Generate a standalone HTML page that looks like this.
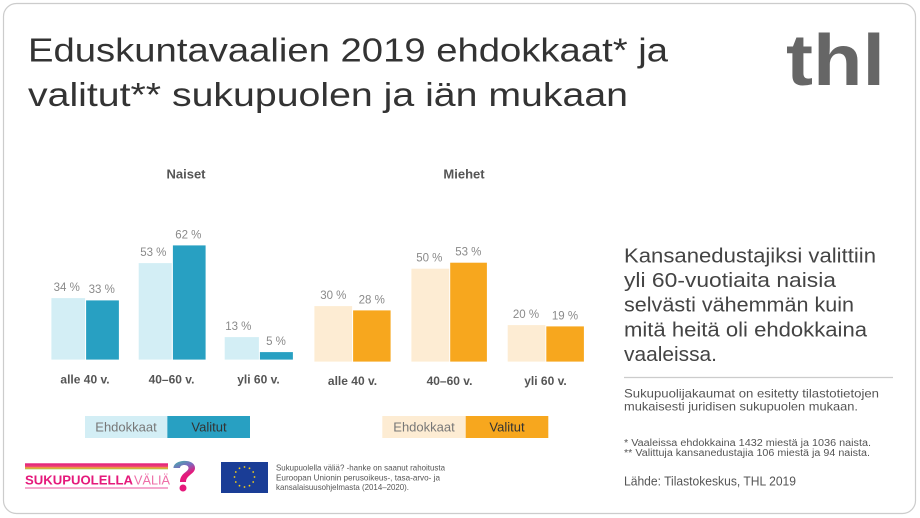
<!DOCTYPE html>
<html><head><meta charset="utf-8"><style>
html,body{margin:0;padding:0;background:#fff;}
svg{display:block;font-family:"Liberation Sans",Arial,sans-serif;}
</style></head><body>
<svg width="920" height="518" viewBox="0 0 920 518" xmlns="http://www.w3.org/2000/svg">
<defs>
<linearGradient id="stripe" x1="0" y1="0" x2="0" y2="1">
<stop offset="0" stop-color="#e5197b"/><stop offset="0.5" stop-color="#e8407a"/><stop offset="0.75" stop-color="#f4a23a"/><stop offset="1" stop-color="#9cc94a"/>
</linearGradient>
<linearGradient id="qm" x1="0" y1="0" x2="0.4" y2="1">
<stop offset="0" stop-color="#3fb7a8"/><stop offset="0.4" stop-color="#7a6bc0"/><stop offset="0.75" stop-color="#e5197b"/><stop offset="1" stop-color="#e5197b"/>
</linearGradient>
</defs>
<rect x="3.5" y="3.5" width="912" height="510" rx="13" fill="#fff" stroke="#cccccc" stroke-width="1.2"/>

<!-- Title -->
<text x="28" y="61.5" font-size="33" fill="#333" textLength="640" lengthAdjust="spacingAndGlyphs">Eduskuntavaalien 2019 ehdokkaat* ja</text>
<text x="28" y="106" font-size="33" fill="#333" textLength="600" lengthAdjust="spacingAndGlyphs">valitut** sukupuolen ja iän mukaan</text>

<!-- thl logo -->
<text x="786" y="85" font-size="72" font-weight="bold" fill="#666" textLength="99" lengthAdjust="spacingAndGlyphs">thl</text>

<!-- Group titles -->
<text x="186" y="178.5" font-size="13" font-weight="bold" fill="#555" text-anchor="middle">Naiset</text>
<text x="464" y="178.5" font-size="13" font-weight="bold" fill="#555" text-anchor="middle">Miehet</text>

<!-- Naiset bars -->
<g stroke="#fff" stroke-width="0.8">
<rect x="51" y="297.7" width="34.5" height="62.3" fill="#d3eef5"/>
<rect x="85.7" y="300" width="33.6" height="60" fill="#28a0c2"/>
<rect x="138.3" y="262.7" width="33.9" height="97.3" fill="#d3eef5"/>
<rect x="172.5" y="245" width="33.5" height="115" fill="#28a0c2"/>
<rect x="224.3" y="336.7" width="35" height="23.3" fill="#d3eef5"/>
<rect x="259.5" y="351.7" width="33.8" height="8.3" fill="#28a0c2"/>
</g>
<!-- Miehet bars -->
<g stroke="#fff" stroke-width="0.8">
<rect x="314" y="305.7" width="38.5" height="56.3" fill="#fdecd3"/>
<rect x="352.7" y="310" width="38.3" height="52" fill="#f7a71e"/>
<rect x="411" y="268.3" width="38.7" height="93.7" fill="#fdecd3"/>
<rect x="449.8" y="262.3" width="37.5" height="99.7" fill="#f7a71e"/>
<rect x="507.3" y="324.7" width="38.5" height="37.3" fill="#fdecd3"/>
<rect x="545.9" y="326" width="38.4" height="36" fill="#f7a71e"/>
</g>

<!-- percent labels -->
<g font-size="11.5" fill="#8a8a8a" text-anchor="middle">
<text x="66.7" y="291">34 %</text>
<text x="101.7" y="293">33 %</text>
<text x="153.3" y="256">53 %</text>
<text x="188.3" y="238.5">62 %</text>
<text x="238.3" y="330">13 %</text>
<text x="276" y="345">5 %</text>
<text x="333.3" y="299">30 %</text>
<text x="371.7" y="303.5">28 %</text>
<text x="429.3" y="261.5">50 %</text>
<text x="468.3" y="255.5">53 %</text>
<text x="526" y="318">20 %</text>
<text x="565" y="319.5">19 %</text>
</g>

<!-- category labels -->
<g font-size="12" font-weight="bold" fill="#555" text-anchor="middle">
<text x="85" y="383.5">alle 40 v.</text>
<text x="171.5" y="383.5">40–60 v.</text>
<text x="258.5" y="383.5">yli 60 v.</text>
<text x="352.5" y="385">alle 40 v.</text>
<text x="449.5" y="385">40–60 v.</text>
<text x="545.5" y="385">yli 60 v.</text>
</g>

<!-- legends -->
<rect x="85" y="416" width="82" height="22" fill="#d3eef5"/>
<rect x="167.3" y="416" width="82.7" height="22" fill="#28a0c2"/>
<text x="126" y="431.5" font-size="13" fill="#777" text-anchor="middle">Ehdokkaat</text>
<text x="209" y="431.5" font-size="13" fill="#333" text-anchor="middle">Valitut</text>
<rect x="382.3" y="416" width="83.4" height="22" fill="#fdecd3"/>
<rect x="465.7" y="416" width="82.6" height="22" fill="#f7a71e"/>
<text x="424" y="431.5" font-size="13" fill="#777" text-anchor="middle">Ehdokkaat</text>
<text x="507" y="431.5" font-size="13" fill="#333" text-anchor="middle">Valitut</text>

<!-- right text -->
<g font-size="20.5" fill="#444">
<text x="624" y="262.3" textLength="252" lengthAdjust="spacingAndGlyphs">Kansanedustajiksi valittiin</text>
<text x="624" y="287" textLength="212" lengthAdjust="spacingAndGlyphs">yli 60-vuotiaita naisia</text>
<text x="624" y="311.7" textLength="230" lengthAdjust="spacingAndGlyphs">selvästi vähemmän kuin</text>
<text x="624" y="336.4" textLength="243" lengthAdjust="spacingAndGlyphs">mitä heitä oli ehdokkaina</text>
<text x="624" y="361" textLength="93" lengthAdjust="spacingAndGlyphs">vaaleissa.</text>
</g>
<line x1="624" y1="377.5" x2="893" y2="377.5" stroke="#cccccc" stroke-width="1.2"/>
<g fill="#555">
<text x="624" y="397.7" font-size="12" textLength="255" lengthAdjust="spacingAndGlyphs">Sukupuolijakaumat on esitetty tilastotietojen</text>
<text x="624" y="410.7" font-size="12" textLength="234" lengthAdjust="spacingAndGlyphs">mukaisesti juridisen sukupuolen mukaan.</text>
<text x="624" y="446" font-size="10" textLength="247" lengthAdjust="spacingAndGlyphs">* Vaaleissa ehdokkaina 1432 miestä ja 1036 naista.</text>
<text x="624" y="456" font-size="10" textLength="246" lengthAdjust="spacingAndGlyphs">** Valittuja kansanedustajia 106 miestä ja 94 naista.</text>
<text x="624" y="485.5" font-size="13" textLength="172" lengthAdjust="spacingAndGlyphs">Lähde: Tilastokeskus, THL 2019</text>
</g>

<!-- Sukupuolella väliä logo -->
<rect x="25" y="463.3" width="143" height="6" fill="url(#stripe)"/>
<text x="25" y="484.3" font-size="12.5" font-weight="bold" fill="#e5197b" textLength="108" lengthAdjust="spacingAndGlyphs">SUKUPUOLELLA</text>
<text x="134" y="484.3" font-size="12.5" fill="#ee6fa8" textLength="36" lengthAdjust="spacingAndGlyphs">VÄLIÄ</text>
<line x1="25" y1="488" x2="168" y2="488" stroke="#e5197b" stroke-width="0.8"/>
<path d="M173.5 468 C173.5 459 195 458 195 468 C195 474 186 475 186 482 L180 482 C180 473 188.5 472 188.5 468 C188.5 464 180 464 180 468 Z" fill="url(#qm)"/>
<circle cx="183" cy="488" r="3.5" fill="#e5197b"/>

<!-- EU flag -->
<rect x="221" y="462" width="47" height="31" fill="#1a3d96"/>
<g fill="#f7d117">
<circle cx="244.5" cy="467" r="0.9"/><circle cx="249.5" cy="468.3" r="0.9"/><circle cx="253.2" cy="472" r="0.9"/>
<circle cx="254.5" cy="477" r="0.9"/><circle cx="253.2" cy="482" r="0.9"/><circle cx="249.5" cy="485.7" r="0.9"/>
<circle cx="244.5" cy="487" r="0.9"/><circle cx="239.5" cy="485.7" r="0.9"/><circle cx="235.8" cy="482" r="0.9"/>
<circle cx="234.5" cy="477" r="0.9"/><circle cx="235.8" cy="472" r="0.9"/><circle cx="239.5" cy="468.3" r="0.9"/>
</g>
<g font-size="8.5" fill="#555">
<text x="276" y="470.5" textLength="169" lengthAdjust="spacingAndGlyphs">Sukupuolella väliä? -hanke on saanut rahoitusta</text>
<text x="276" y="480.5" textLength="164" lengthAdjust="spacingAndGlyphs">Euroopan Unionin perusoikeus-, tasa-arvo- ja</text>
<text x="276" y="490" textLength="133" lengthAdjust="spacingAndGlyphs">kansalaisuusohjelmasta (2014–2020).</text>
</g>
</svg>
</body></html>
